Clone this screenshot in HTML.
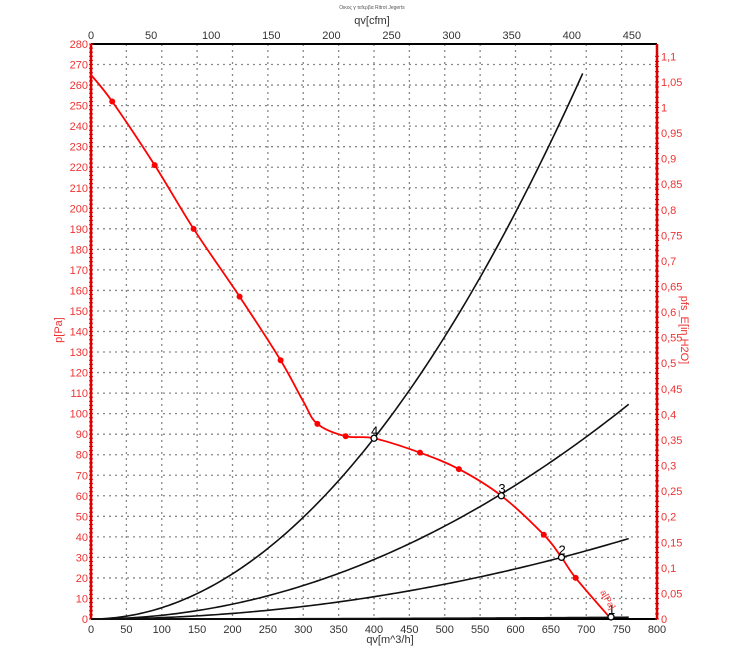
<!DOCTYPE html>
<html><head><meta charset="utf-8"><style>
body{margin:0;background:#fff;width:750px;height:659px;overflow:hidden}
svg{display:block;font-family:"Liberation Sans",sans-serif}
</style></head><body>
<svg id="s" width="750" height="659" xmlns="http://www.w3.org/2000/svg"></svg>
<script>
var X0=91,X1=657,Y0=619,Y1=44;
function px(q){return X0+q*(X1-X0)/800}
function py(p){return Y0-p*(Y0-Y1)/280}
var h='';
for(var q=50;q<800;q+=50){h+='<line x1="'+px(q)+'" y1="'+Y1+'" x2="'+px(q)+'" y2="'+Y0+'" stroke="#888" stroke-width="1.3" stroke-dasharray="2,4"/>';}
for(var p=10;p<280;p+=10){h+='<line x1="'+X0+'" y1="'+py(p)+'" x2="'+X1+'" y2="'+py(p)+'" stroke="#888" stroke-width="1.3" stroke-dasharray="2,4"/>';}
h+='<line x1="'+X0+'" y1="'+Y1+'" x2="'+X1+'" y2="'+Y1+'" stroke="#000" stroke-width="2"/>';
h+='<line x1="'+X0+'" y1="'+Y0+'" x2="'+X1+'" y2="'+Y0+'" stroke="#000" stroke-width="2"/>';
h+='<line x1="'+X0+'" y1="'+Y1+'" x2="'+X0+'" y2="'+Y0+'" stroke="#d00" stroke-width="2.5"/>';
h+='<line x1="'+X1+'" y1="'+Y1+'" x2="'+X1+'" y2="'+Y0+'" stroke="#d00" stroke-width="2.5"/>';
for(var p=0;p<=280;p+=2){h+='<line x1="'+(X0-2)+'" y1="'+py(p)+'" x2="'+(X0+2)+'" y2="'+py(p)+'" stroke="#d00"/>';}
for(var i=0;i<=110;i++){var yy=Y0-i*(Y0-Y1)/280*2.4909;h+='<line x1="'+(X1-2)+'" y1="'+yy+'" x2="'+(X1+2)+'" y2="'+yy+'" stroke="#d00"/>';}
for(var p=0;p<=280;p+=10){h+='<text x="'+(X0-3)+'" y="'+(py(p)+4)+'" font-size="11" fill="#e33" text-anchor="end">'+p+'</text>';}
for(var i=0;i<=22;i++){var v=i*0.05;var yy=Y0-v*249.09*(Y0-Y1)/280;var t=(Math.round(v*100)/100).toString().replace('.',',');h+='<text x="'+(X1+4)+'" y="'+(yy+4)+'" font-size="11" fill="#e33">'+t+'</text>';}
for(var q=0;q<=800;q+=50){h+='<text x="'+px(q)+'" y="'+(Y0+14)+'" font-size="11" fill="#333" text-anchor="middle">'+q+'</text>';}
for(var c=0;c<=450;c+=50){h+='<text x="'+px(c*1.699)+'" y="'+(Y1-5)+'" font-size="11" fill="#333" text-anchor="middle">'+c+'</text>';}
h+='<text x="372" y="24" font-size="11" fill="#333" text-anchor="middle">qv[cfm]</text>';
h+='<text x="372" y="9" font-size="5" fill="#555" text-anchor="middle">Οικος γ τεfερβα Ritrot Jegerts</text>';
h+='<text x="390" y="643" font-size="11" fill="#333" text-anchor="middle">qv[m^3/h]</text>';
h+='<text transform="translate(62,330) rotate(-90)" font-size="11" fill="#e33" text-anchor="middle">p[Pa]</text>';
h+='<text transform="translate(681,330) rotate(90)" font-size="11" fill="#e33" text-anchor="middle">pfs_E[in H2O]</text>';
function sys(k,qmax){var s='';for(var q=0;q<=qmax;q+=5){s+=px(q)+','+py(k*q*q)+' ';}return '<polyline points="'+s+'" fill="none" stroke="#111" stroke-width="1.6"/>';}
h+=sys(5.5e-4,698);h+=sys(1.81e-4,760);h+=sys(6.78e-5,760);h+=sys(1.5e-6,760);
var R=[[0,265],[30,252],[90,221],[145,190],[210,157],[268,126],[300,106],[320,95],[360,89],[400,88],[465,81],[520,73],[580,60],[640,41],[665,30],[685,20],[735,0]];
var P=R.map(function(a){return [px(a[0]),py(a[1])]});
var d='M'+P[0][0]+','+P[0][1];
for(var i=0;i<P.length-1;i++){var p0=P[Math.max(0,i-1)],p1=P[i],p2=P[i+1],p3=P[Math.min(P.length-1,i+2)];
d+=' C'+(p1[0]+(p2[0]-p0[0])/6)+','+(p1[1]+(p2[1]-p0[1])/6)+' '+(p2[0]-(p3[0]-p1[0])/6)+','+(p2[1]-(p3[1]-p1[1])/6)+' '+p2[0]+','+p2[1];}
h+='<path d="'+d+'" fill="none" stroke="#f00" stroke-width="1.8"/>';
[[30,252],[90,221],[145,190],[210,157],[268,126],[320,95],[360,89],[465,81],[520,73],[640,41],[685,20]].forEach(function(a){h+='<circle cx="'+px(a[0])+'" cy="'+py(a[1])+'" r="3" fill="#f00"/>';});
[[400,88,'4'],[580,60,'3'],[665,30,'2'],[735,1,'1']].forEach(function(a){h+='<circle cx="'+px(a[0])+'" cy="'+py(a[1])+'" r="3" fill="#fff" stroke="#000" stroke-width="1.3"/>';h+='<text x="'+(px(a[0])-3)+'" y="'+(py(a[1])-3)+'" font-size="13" fill="#000">'+a[2]+'</text>';});
h+='<text transform="translate(600,592) rotate(60)" font-size="9" fill="#e33">a[Pa]</text>';
document.getElementById('s').innerHTML=h;
</script>
</body></html>
